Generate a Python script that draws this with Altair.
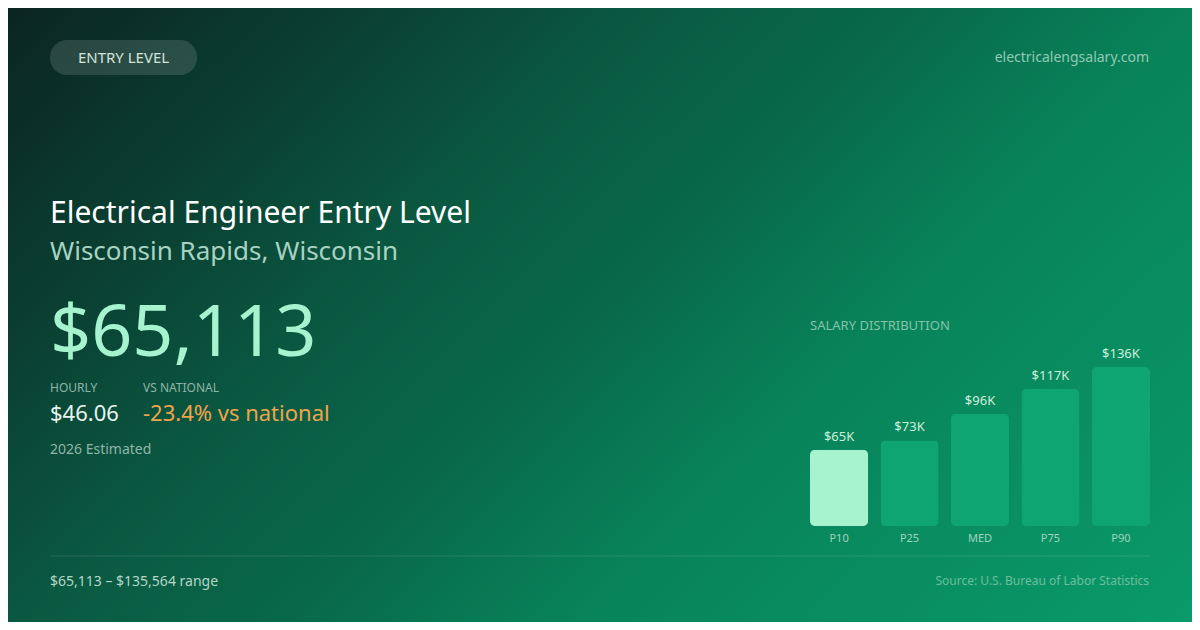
import altair as alt
import pandas as pd

# ---- data ----
categories = ["P10", "P25", "MED", "P75", "P90"]
salaries = [65113, 73000, 95800, 116900, 135564]
bar_colors = ["#a7f3d0", "#0fa572", "#0fa572", "#0fa572", "#0fa572"]

badge_text = "ENTRY LEVEL"
site_text = "electricalengsalary.com"
title_text = "Electrical Engineer Entry Level"
subtitle_text = "Wisconsin Rapids, Wisconsin"
big_value = "$65,113"
hourly_label = "HOURLY"
hourly_value = "$46.06"
national_label = "VS NATIONAL"
national_value = "-23.4% vs national"
estimate_text = "2026 Estimated"
dist_title = "SALARY DISTRIBUTION"
range_text = "$65,113 – $135,564 range"
source_text = "Source: U.S. Bureau of Labor Statistics"

W, H = 1184, 614
FONT = "Noto Sans"

bars_df = pd.DataFrame({
    "pct": categories,
    "salary": salaries,
    "label": [f"${round(v / 1000)}K" for v in salaries],
})
one = alt.Data(values=[{"k": 1}])

bg = alt.Chart(one).mark_rect(
    color=alt.Gradient(
        gradient="linear",
        x1=-0.098, y1=0.186, x2=1.098, y2=0.814,
        stops=[
            alt.GradientStop(color="#0b2520", offset=0),
            alt.GradientStop(color="#0a4032", offset=0.2),
            alt.GradientStop(color="#0a5a42", offset=0.36),
            alt.GradientStop(color="#08694a", offset=0.5),
            alt.GradientStop(color="#08835a", offset=0.66),
            alt.GradientStop(color="#0a9a6a", offset=1),
        ],
    )
).encode(x=alt.value(0), x2=alt.value(W), y=alt.value(0), y2=alt.value(H))

badge = alt.Chart(one).mark_rect(
    cornerRadius=17, color="#ffffff", opacity=0.13
).encode(x=alt.value(42), x2=alt.value(189), y=alt.value(32), y2=alt.value(67))

divider = alt.Chart(one).mark_rule(color="#ffffff", opacity=0.12, strokeWidth=1).encode(
    x=alt.value(42), x2=alt.value(1142), y=alt.value(548)
)


def label(text, x, y, size, color, align="left", baseline="alphabetic", weight="normal"):
    return alt.Chart(one).mark_text(
        text=text, font=FONT, fontSize=size, color=color, align=align,
        baseline=baseline, fontWeight=weight,
    ).encode(x=alt.value(x), y=alt.value(y))


texts = [
    label(badge_text, 115.5, 50, 15, "#d3e3dc", align="center", baseline="middle"),
    label(site_text, 1141, 50, 14, "#93c9b3", align="right", baseline="middle"),
    label(title_text, 42, 215, 30, "#ffffff"),
    label(subtitle_text, 42, 252, 26, "#a7d3c2"),
    label(big_value, 42, 348, 72, "#a7f3d0"),
    label(hourly_label, 42, 383.5, 12, "#8fb5a7"),
    label(national_label, 135, 383.5, 12, "#8fb5a7"),
    label(hourly_value, 42, 412.5, 22, "#e8f4ef"),
    label(national_value, 135, 412.5, 22, "#f0a34c"),
    label(estimate_text, 42, 446, 14, "#8fb5a7"),
    label(dist_title, 802, 321.5, 13, "#86c4aa"),
    label(range_text, 42, 578, 14, "#b5d5c8"),
    label(source_text, 1141, 577, 12, "#6cbf9c", align="right"),
]

xscale = alt.Scale(domain=categories, range=[802, 1142], paddingInner=0.175, paddingOuter=0)
yscale = alt.Scale(domain=[0, 135564], range=[518, 359], nice=False, zero=True)

base = alt.Chart(bars_df).encode(
    x=alt.X("pct:N", sort=categories, scale=xscale, axis=None),
)

bars = base.mark_bar(cornerRadius=5).encode(
    y=alt.Y("salary:Q", scale=yscale, axis=None),
    color=alt.Color("pct:N", scale=alt.Scale(domain=categories, range=bar_colors), legend=None),
)

value_labels = base.mark_text(
    font=FONT, fontSize=13, color="#cdeedd", baseline="bottom", dy=-6
).encode(
    y=alt.Y("salary:Q", scale=yscale, axis=None),
    text="label:N",
)

cat_labels = base.mark_text(
    font=FONT, fontSize=11, color="#a0d4bf", baseline="middle"
).encode(
    y=alt.value(531),
    text="pct:N",
)

chart = alt.layer(
    bg, badge, divider, *texts, bars, value_labels, cat_labels
).properties(
    width=W, height=H, padding=0, autosize=alt.AutoSizeParams(type="none"),
    background="#0a5a40",
).configure_view(stroke=None)

chart.save("out.html", embed_options={"renderer": "svg", "actions": False})
